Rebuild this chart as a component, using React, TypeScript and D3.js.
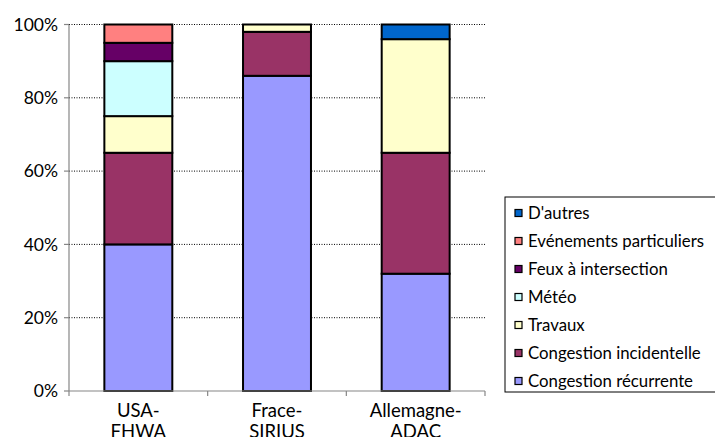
import React from 'react'
import * as d3 from 'd3'

const categories = ['USA-\nFHWA', 'Frace-\nSIRIUS', 'Allemagne-\nADAC']

// bottom to top stacking order
const seriesNames = [
  'Congestion récurrente',
  'Congestion incidentelle',
  'Travaux',
  'Météo',
  'Feux à intersection',
  'Evénements particuliers',
  "D'autres",
]

const recurrente = [40, 86, 32]
const incidentelle = [25, 12, 33]
const travaux = [10, 2, 31]
const meteo = [15, 0, 0]
const feux = [5, 0, 0]
const evenements = [5, 0, 0]
const autres = [0, 0, 4]

const seriesColors = ['#9999FF', '#993366', '#FFFFCC', '#CCFFFF', '#660066', '#FF8080', '#0066CC']

const yTicks = [0, 20, 40, 60, 80, 100]

const FONT = 'Lato, "Open Sans", sans-serif'

export default function App() {
  const width = 715
  const height = 437
  const margin = { top: 24.5, left: 69, right: 230, bottom: 46 }
  const plotRight = width - margin.right
  const plotBottom = height - margin.bottom

  const values = [recurrente, incidentelle, travaux, meteo, feux, evenements, autres]
  const rows = categories.map((c, i) => {
    const row: Record<string, any> = { cat: c }
    seriesNames.forEach((s, j) => { row[s] = values[j][i] })
    return row
  })

  const stack = d3.stack<any>().keys(seriesNames)
  const layers = stack(rows)

  const xScale = d3.scaleBand<string>()
    .domain(categories)
    .range([margin.left, plotRight])
    .paddingInner(0.51)
    .paddingOuter(0.255)

  const xOuter = d3.scaleBand<string>()
    .domain(categories)
    .range([margin.left, plotRight])

  const yScale = d3.scaleLinear()
    .domain([0, 100])
    .range([plotBottom, margin.top])

  const legendItems = seriesNames.map((s, i) => ({ name: s, color: seriesColors[i] })).reverse()
  const legendX = 505
  const legendTop = 197
  const rowH = 28

  return (
    <svg width={width} height={height} style={{ position: 'absolute', left: 0, top: 0 }} fontFamily={FONT}>
      <rect width={width} height={height} fill="#fff" />

      {/* gridlines */}
      {yTicks.filter(t => t > 0).map(t => (
        <line key={t} x1={margin.left} x2={plotRight} y1={yScale(t)} y2={yScale(t)}
          stroke="#000" strokeWidth={1} strokeDasharray="1,1.5" />
      ))}

      {/* bars */}
      {layers.map((layer, li) => (
        <g key={layer.key}>
          {layer.map((d, i) => (
            d[1] - d[0] > 0 ? (
              <rect key={i}
                x={xScale(categories[i])}
                y={yScale(d[1])}
                width={xScale.bandwidth()}
                height={yScale(d[0]) - yScale(d[1])}
                fill={seriesColors[li]}
                stroke="#000"
                strokeWidth={2} />
            ) : null
          ))}
        </g>
      ))}

      {/* y axis */}
      <line x1={margin.left} x2={margin.left} y1={margin.top} y2={plotBottom} stroke="#868686" strokeWidth={1.2} />
      {yTicks.map(t => (
        <g key={t}>
          <line x1={margin.left - 5} x2={margin.left} y1={yScale(t)} y2={yScale(t)} stroke="#868686" strokeWidth={1.2} />
          <text x={margin.left - 11} y={yScale(t)} dy="0.35em" textAnchor="end" fontSize={17.5} fill="#000">{t}%</text>
        </g>
      ))}

      {/* x axis */}
      <line x1={margin.left} x2={plotRight} y1={plotBottom} y2={plotBottom} stroke="#868686" strokeWidth={1.2} />
      {[...categories.map(c => xOuter(c) as number), plotRight].map((x, i) => (
        <line key={i} x1={x} x2={x} y1={plotBottom} y2={plotBottom + 5} stroke="#868686" strokeWidth={1.2} />
      ))}
      {categories.map(c => {
        const cx = (xOuter(c) as number) + xOuter.bandwidth() / 2
        return (
          <text key={c} textAnchor="middle" fontSize={18.5} fill="#000">
            {c.split('\n').map((line, k) => (
              <tspan key={k} x={cx} y={plotBottom + 26 + k * 21}>{line}</tspan>
            ))}
          </text>
        )
      })}

      {/* legend */}
      <rect x={legendX} y={legendTop} width={240} height={195} fill="#fff" stroke="#000" strokeWidth={1} />
      {legendItems.map((it, i) => {
        const cy = legendTop + 16 + i * rowH
        return (
          <g key={it.name}>
            <rect x={515} y={cy - 3.5} width={7} height={7} fill={it.color} stroke="#000" strokeWidth={1.2} />
            <text x={528} y={cy} dy="0.35em" fontSize={16.8} fill="#000">{it.name}</text>
          </g>
        )
      })}
    </svg>
  )
}
